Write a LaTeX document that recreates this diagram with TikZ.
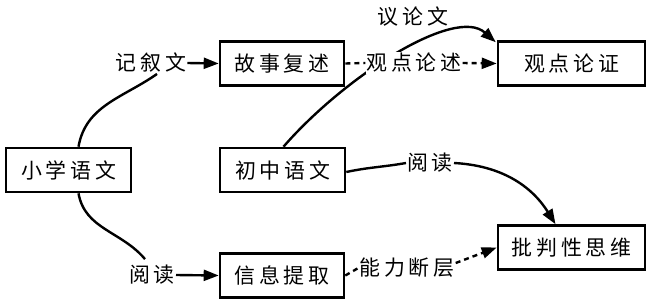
\documentclass[tikz,border=0pt]{standalone}
\usepackage{fontspec}
\newfontfamily\cjk[LetterSpace=18]{Noto Sans CJK SC}
\usetikzlibrary{arrows.meta}
\begin{document}
\begin{tikzpicture}[x=1bp,y=1bp,
  box/.style={draw,line width=2.6bp,minimum height=44bp,inner sep=0pt,font=\cjk\fontsize{21}{21}\selectfont},
  lbl/.style={fill=white,inner sep=1pt,font=\cjk\fontsize{21}{21}\selectfont},
  con/.style={line width=2.4bp},
  dsh/.style={line width=2.4bp,dash pattern=on 5bp off 4bp},
  arr/.style={-{Triangle[length=15bp,width=11bp]}}]
\useasboundingbox (0,0) rectangle (654,301);
% boxes
\node[box,minimum width=125bp] (xx) at (68.5,131) {小学语文};
\node[box,minimum width=124bp] (gs) at (282,237.5) {故事复述};
\node[box,minimum width=147bp] (gd) at (571.5,237.5) {观点论证};
\node[box,minimum width=125bp] (cz) at (282.5,131) {初中语文};
\node[box,minimum width=124bp] (xi) at (282,25.5) {信息提取};
\node[box,minimum width=147bp] (pp) at (571.5,53.5) {批判性思维};
% connectors drawn before labels so labels mask them
\draw[con,arr] ([xshift=1bp]cz.north) .. controls (345,225) and (455,295) .. ([shift={(-1bp,-2bp)}]gd.north west);
% labels
\node[lbl] (l1) at (151,238) {记叙文};
\node[lbl] (l2) at (152,26) {阅读};
\node[lbl] (l3) at (413,284) {议论文};
\node[lbl] (l4) at (414,238) {观点论述};
\node[lbl] (l5) at (430,138) {阅读};
\node[lbl] (l6) at (407,33) {能力断层};
% other connectors
\draw[con] ([xshift=10bp]xx.north) to[out=80,in=215] ([xshift=6bp]l1.south);
\draw[con,arr] (l1.east) -- (gs.west);
\draw[con] ([xshift=10bp]xx.south) to[out=-80,in=130] ([shift={(17bp,5bp)}]l2.north west);
\draw[con,arr] (l2.east) -- (xi.west);
\draw[dsh] (gs.east) -- (l4.west);
\draw[dsh,arr] (l4.east) -- (gd.west);
\draw[con] ([yshift=-2bp]cz.east) to[out=12,in=190] (l5.west);
\draw[con,arr] (l5.east) to[out=-3,in=122] ([xshift=-16bp]pp.north);
\draw[dsh] (xi.east) -- (l6.west);
\draw[dsh,arr] ([yshift=5bp]l6.east) -- (pp.west);
\end{tikzpicture}
\end{document}
